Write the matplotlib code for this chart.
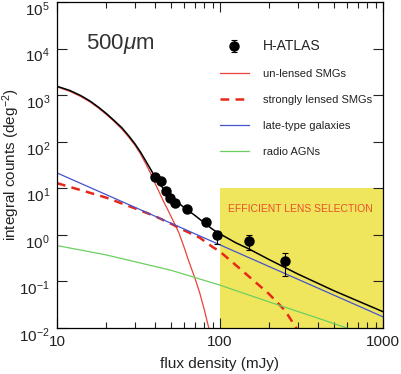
import numpy as np
import matplotlib
matplotlib.use('Agg')
import matplotlib.pyplot as plt
from matplotlib.ticker import LogLocator, FixedLocator, FixedFormatter, NullFormatter
from matplotlib.lines import Line2D
from matplotlib.transforms import ScaledTranslation

plt.rcParams['font.family'] = ['Liberation Sans', 'DejaVu Sans']
plt.rcParams['mathtext.fontset'] = 'custom'
plt.rcParams['mathtext.rm'] = 'Liberation Sans'
plt.rcParams['mathtext.it'] = 'Liberation Sans:italic'

# H-ATLAS 500 micron integral counts
obs_S = [40, 43.3, 46.4, 49.1, 53.2, 62.5, 82.4, 95.4, 151, 252]
obs_N = [17.5, 14.4, 8.8, 6.25, 4.72, 3.58, 1.85, 0.97, 0.75, 0.28]
obs_lo = [16.5, 13.6, 8.3, 5.85, 4.4, 3.3, 1.6, 0.65, 0.48, 0.13]
obs_hi = [18.5, 15.2, 9.3, 6.65, 5.05, 3.9, 2.15, 1.23, 0.97, 0.40]

# model curves, log10 N(>S)
total_S = [10, 12, 14, 16, 18, 20, 22.5, 25, 27.5, 30, 32.5, 35, 37.5, 40, 42.5, 45, 47.5, 50,
           55, 60, 70, 80, 90, 100, 125, 150, 200, 300, 500, 1000]
total_logN = [3.19, 3.10, 2.99, 2.87, 2.74, 2.61, 2.45, 2.30, 2.13, 1.96, 1.78, 1.59, 1.41, 1.24,
              1.10, 0.99, 0.90, 0.83, 0.70, 0.59, 0.42, 0.26, 0.12, 0.02, -0.17, -0.30, -0.53,
              -0.84, -1.20, -1.65]

unlensed_S = [10, 12, 14, 16, 18, 20, 22.5, 25, 27.5, 30, 32.5, 35, 37.5, 40, 42.5, 45, 47.5, 50,
              53, 56, 60, 65, 70, 75, 80, 86]
unlensed_logN = [3.18, 3.08, 2.97, 2.85, 2.72, 2.59, 2.43, 2.27, 2.10, 1.93, 1.74, 1.53, 1.32, 1.10,
                 0.91, 0.72, 0.56, 0.40, 0.22, 0.04, -0.25, -0.61, -0.92, -1.24, -1.60, -2.05]

lensed_S = [10, 15, 20, 30, 40, 50, 60, 75, 90, 100, 125, 150, 200, 250, 300]
lensed_logN = [1.11, 0.93, 0.80, 0.57, 0.40, 0.24, 0.10, -0.06, -0.26, -0.36, -0.65, -0.89,
               -1.27, -1.62, -2.05]

late_S = [10, 100, 1000]
late_logN = [1.33, -0.215, -1.76]

agn_S = [10, 20, 50, 100, 200, 400, 600, 1000]
agn_logN = [-0.23, -0.43, -0.76, -1.08, -1.44, -1.79, -2.0, -2.25]

# efficient lens selection region
sel_S = [100, 1000]
sel_N = [0.01, 10]

red = '#e8443a'
red_dash = '#e82818'
blue = '#4454cc'
green = '#6cd060'

fig = plt.figure(figsize=(4.02, 3.74), dpi=100)
ax = fig.add_axes([57 / 402, 1 - 328 / 374, 326 / 402, 326 / 374])

ax.fill_between(sel_S, sel_N[0], sel_N[1], color='#f0e65e', lw=0, zorder=0)
ax.text(0.525, 0.364, 'EFFICIENT LENS SELECTION', transform=ax.transAxes, color='#e8502a',
        fontsize=7.5, ha='left', va='center')

ax.plot(unlensed_S, 10 ** np.array(unlensed_logN), color=red, lw=0.9, zorder=2)
ax.plot(lensed_S, 10 ** np.array(lensed_logN), color=red_dash, lw=1.8, ls=(0, (3.5, 2.5)), zorder=2)
ax.plot(late_S, 10 ** np.array(late_logN), color=blue, lw=0.9, zorder=2)
ax.plot(agn_S, 10 ** np.array(agn_logN), color=green, lw=0.9, zorder=2)
ax.plot(total_S, 10 ** np.array(total_logN), color='black', lw=1.1, zorder=3)

obs_N_a = np.array(obs_N)
yerr = [obs_N_a - np.array(obs_lo), np.array(obs_hi) - obs_N_a]
eb = ax.errorbar(obs_S, obs_N, yerr=yerr, fmt='o', color='black', ms=6.5, elinewidth=0.8,
                 capsize=2, capthick=0.8, zorder=4)

ax.set_xscale('log')
ax.set_yscale('log')
ax.set_xlim(10, 1000)
ax.set_ylim(1e-2, 1e5)

ax.xaxis.set_major_locator(FixedLocator([10, 100, 1000]))
ax.xaxis.set_major_formatter(FixedFormatter(['10', '100', '1000']))
ax.xaxis.set_minor_locator(LogLocator(base=10, subs=np.arange(2, 10)))
ax.xaxis.set_minor_formatter(NullFormatter())
ax.set_yticks([1e-2, 1e-1, 1, 10, 1e2, 1e3, 1e4, 1e5])
ax.yaxis.set_minor_locator(FixedLocator([]))

ax.tick_params(which='both', direction='in', top=True, right=True, colors='#222222',
               labelsize=11, width=0.8)
ax.tick_params(which='major', length=7, pad=5)
ax.tick_params(which='minor', length=4)
for sp in ax.spines.values():
    sp.set_linewidth(0.9)

# y tick labels sit a little below their ticks in the original
shift = ScaledTranslation(0, -6 / 100, fig.dpi_scale_trans)
for tick in ax.yaxis.get_major_ticks():
    tick.label1.set_transform(tick.label1.get_transform() + shift)

ax.set_xlabel('flux density (mJy)', fontsize=11, color='#222222', labelpad=6)
ax.set_ylabel('integral counts (deg$^{-2}$)', fontsize=11, color='#222222')
ax.yaxis.set_label_coords(-0.107, 0.5)

ax.text(0.09, 0.872, '500$\\mu$m', transform=ax.transAxes, fontsize=16, color='#333333',
        ha='left', va='center')

handles = [eb,
           Line2D([], [], color=red, lw=0.9),
           Line2D([], [], color=red_dash, lw=1.8, ls=(0, (3.5, 2.5))),
           Line2D([], [], color=blue, lw=0.9),
           Line2D([], [], color=green, lw=0.9)]
labels = ['H-ATLAS', 'un-lensed SMGs', 'strongly lensed SMGs', 'late-type galaxies', 'radio AGNs']
leg = ax.legend(handles, labels, loc='upper left', bbox_to_anchor=(0.50, 0.887), frameon=False,
                fontsize=8, handlelength=2.6, handletextpad=1.3, labelspacing=1.45,
                borderaxespad=0, borderpad=0)
leg.get_texts()[0].set_fontsize(10)
for t in leg.get_texts():
    t.set_color('#222222')

fig.savefig('out.png', dpi=100)
